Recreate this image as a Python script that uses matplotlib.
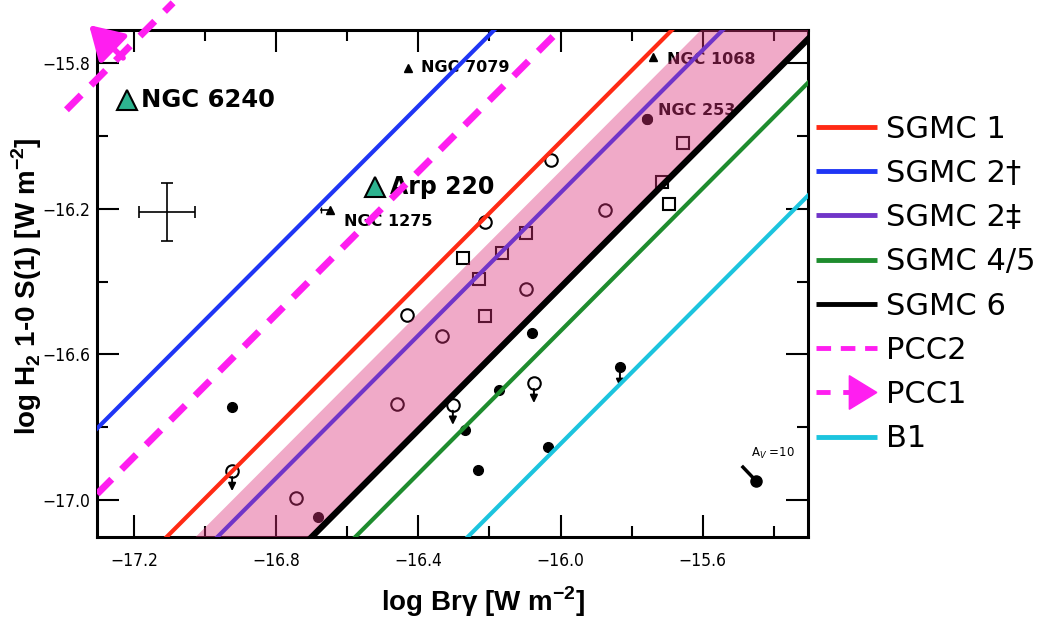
import numpy as np
import matplotlib
matplotlib.use("Agg")
import matplotlib.pyplot as plt
from matplotlib.lines import Line2D
from matplotlib.patches import Polygon
from matplotlib.legend_handler import HandlerBase
from matplotlib.ticker import MultipleLocator

plt.rcParams['mathtext.fontset'] = 'custom'
plt.rcParams['mathtext.rm'] = 'Liberation Sans'
plt.rcParams['mathtext.bf'] = 'Liberation Sans:bold'

# ---------------- data ----------------
# model lines y = y0 + slope*(x - x0)
SLOPE = 0.98
X0 = -16.3
line_names = ['SGMC 1', 'SGMC 2\u2020', 'SGMC 2\u2021', 'SGMC 4/5', 'SGMC 6', 'PCC2', 'PCC1', 'B1']
line_y0 = [-16.31, -15.82, -16.45, -16.83, -16.71, -16.00, -14.86, -17.14]
band_edge_y0 = -16.39          # left edge of shaded band, right edge is SGMC 6
pcc1_xrange = [-17.39, -17.09]  # the bit of PCC1 visible near the corner

# open circles
open_x = [-16.027, -16.213, -16.432, -16.744, -16.460, -16.334, -16.097, -15.875]
open_y = [-16.066, -16.236, -16.492, -16.995, -16.736, -16.550, -16.421, -16.204]
# open circles, upper limits
open_lim_x = [-16.924, -16.303, -16.075]
open_lim_y = [-16.921, -16.739, -16.679]
# open squares
sq_x = [-16.274, -16.229, -16.165, -16.097, -15.656, -15.715, -15.695, -16.213]
sq_y = [-16.335, -16.393, -16.322, -16.267, -16.019, -16.127, -16.187, -16.495]
# filled dots
dot_x = [-16.924, -16.682, -16.080, -16.173, -16.269, -16.232, -16.035, -15.757]
dot_y = [-16.745, -17.047, -16.541, -16.698, -16.808, -16.918, -16.855, -15.954]
dot_lim_x = [-15.833]
dot_lim_y = [-16.635]
# A_V = 10 extinction vector
av_x = [-15.487, -15.450]
av_y = [-16.910, -16.948]
# small triangles (labelled)
tri_names = ['NGC 7079', 'NGC 1275', 'NGC 1068']
tri_x = [-16.429, -16.649, -15.740]
tri_y = [-15.813, -16.204, -15.783]
ngc253_x, ngc253_y = -15.757, -15.954
# new sources
new_names = ['NGC 6240', 'Arp 220']
new_x = [-17.220, -16.522]
new_y = [-15.901, -16.140]
# typical error bar
err_x, err_y, err_size = -17.107, -16.209, 0.08

colors = ['#ff2a14', '#1f35f5', '#7035c8', '#1e8c2e', '#000000', '#ff1ef0', '#ff1ef0', '#1cc4de']
widths = [3, 3, 3, 3, 4.5, 5, 5, 3]


class ArrowHandler(HandlerBase):
    def create_artists(self, legend, orig, xdescent, ydescent, width, height, fontsize, trans):
        y = height / 2 - ydescent
        ln = Line2D([-xdescent, width * 0.6], [y, y], color=orig.get_color(),
                    lw=3.5, ls=(0, (2.9, 2.6)))
        h = 0.55 * fontsize
        head = Polygon([[width * 0.55, y - h], [width, y], [width * 0.55, y + h]],
                       closed=True, color=orig.get_color())
        ln.set_transform(trans)
        head.set_transform(trans)
        return [ln, head]


fig = plt.figure(figsize=(10.58, 6.19), dpi=100)
ax = fig.add_axes([0.0917, 0.1325, 0.672, 0.819])
ax.set_xlim(-17.304, -15.304)
ax.set_ylim(-17.102, -15.709)

xs = np.array([-17.6, -15.0])

# shaded band (drawn over the points so they turn maroon)
ax.fill_between(xs, line_y0[4] + SLOPE * (xs - X0), band_edge_y0 + SLOPE * (xs - X0),
                color='#dc317a', alpha=0.41, lw=0, zorder=4)

handles = []
for name, y0, c, w in zip(line_names, line_y0, colors, widths):
    if name == 'PCC1':
        px = np.array(pcc1_xrange)
        l, = ax.plot(px, y0 + SLOPE * (px - X0), color=c, lw=w, ls=(0, (3, 2)),
                     clip_on=False, zorder=5)
    elif name == 'PCC2':
        l, = ax.plot(xs, y0 + SLOPE * (xs - X0), color=c, lw=w, ls=(0, (3, 2)), zorder=5)
    else:
        l, = ax.plot(xs, y0 + SLOPE * (xs - X0), color=c, lw=w, zorder=5,
                     solid_capstyle='butt')
    handles.append(l)

# arrow pointing towards PCC1
ax.annotate('', xy=(-17.332, -15.690), xytext=(-17.225, -15.791),
            arrowprops=dict(arrowstyle='-|>,head_length=1.0,head_width=0.6',
                            mutation_scale=20, color='#ff1ef0', lw=4),
            annotation_clip=False, zorder=6)

# data points
ax.plot(open_x, open_y, 'o', mfc='white', mec='k', ms=9, mew=1.5, ls='none', zorder=2)
ax.plot(open_lim_x, open_lim_y, 'o', mfc='white', mec='k', ms=9, mew=1.5, ls='none', zorder=2)
ax.plot(sq_x, sq_y, 's', mfc='white', mec='k', ms=8, mew=1.5, ls='none', zorder=2)
ax.plot(dot_x, dot_y, 'o', color='k', ms=7, ls='none', zorder=2)
ax.plot(dot_lim_x, dot_lim_y, 'o', color='k', ms=7, ls='none', zorder=2)
for x, y in zip(open_lim_x + dot_lim_x, open_lim_y + dot_lim_y):
    ax.annotate('', xy=(x, y - 0.055), xytext=(x, y - 0.016),
                arrowprops=dict(arrowstyle='-|>,head_length=0.45,head_width=0.22',
                                mutation_scale=10, color='k', lw=1.4, shrinkA=0, shrinkB=0),
                zorder=2)

ax.plot(av_x, av_y, color='k', lw=2.5, zorder=2)
ax.plot(av_x[-1:], av_y[-1:], 'o', color='k', ms=8, zorder=2)
ax.annotate('A$_V$ =10', (av_x[-1], av_y[-1]), xytext=(-4, 20), textcoords='offset points',
            fontsize=8.5, ha='left', va='center', family='DejaVu Sans', zorder=2)

ax.plot(tri_x, tri_y, '^', color='k', ms=6, ls='none', zorder=2)
ax.plot([tri_x[1] - 0.025, tri_x[1]], [tri_y[1], tri_y[1]], color='k', lw=1.2,
        marker='|', markevery=[0], ms=5, zorder=2)
tri_offsets = [(9.5, 0.5), (10.5, -8.5), (10, -2)]
for name, x, y, off in zip(tri_names, tri_x, tri_y, tri_offsets):
    ax.annotate(name, (x, y), xytext=off, textcoords='offset points', fontsize=11.5,
                fontweight='bold', ha='left', va='center', family='DejaVu Sans', zorder=2)
ax.plot([ngc253_x], [ngc253_y], 'o', color='k', ms=7, zorder=2)
ax.annotate('NGC 253', (ngc253_x, ngc253_y), xytext=(8, 6.5), textcoords='offset points',
            fontsize=11.5, fontweight='bold', ha='left', va='center', family='DejaVu Sans',
            zorder=2)

ax.plot(new_x, new_y, '^', mfc='#2db38f', mec='k', ms=14, mew=1.5, ls='none', zorder=3)
for name, x, y, fs in zip(new_names, new_x, new_y, [17.5, 17]):
    ax.annotate(name, (x, y), xytext=(10.5, 0), textcoords='offset points', fontsize=fs,
                fontweight='bold', ha='left', va='center', family='DejaVu Sans', zorder=3)

ax.errorbar([err_x], [err_y], xerr=err_size, yerr=err_size, fmt='none', ecolor='k',
            elinewidth=1.2, capsize=4, capthick=1.2, zorder=2)

# axes styling
ax.set_xticks([-17.2, -16.8, -16.4, -16.0, -15.6])
ax.xaxis.set_minor_locator(MultipleLocator(0.2))
ax.set_yticks([-15.8, -16.2, -16.6, -17.0])
ax.yaxis.set_minor_locator(MultipleLocator(0.2))
ax.tick_params(which='both', direction='in', top=True, right=True, width=1.5)
ax.tick_params(which='major', length=16)
ax.tick_params(which='minor', length=8)
ax.tick_params(axis='x', pad=11)
ax.tick_params(axis='y', pad=5)
for lab in ax.get_xticklabels() + ax.get_yticklabels():
    lab.set_family('DejaVu Sans')
    lab.set_stretch('condensed')
    lab.set_fontsize(12.5)
for s in ax.spines.values():
    s.set_linewidth(2.2)

ax.set_xlabel('log Br\u03b3 [W m$^{\\mathbf{-2}}$]', fontsize=20, fontweight='bold',
              family='Liberation Sans')
ax.set_ylabel(r'log H$_\mathbf{2}$ 1-0 S(1) [W m$^{\mathbf{-2}}$]', fontsize=20,
              fontweight='bold', family='Liberation Sans')
ax.xaxis.set_label_coords(0.543, -0.093)
ax.yaxis.set_label_coords(-0.074, 0.495)

leg = fig.legend(handles, line_names, loc='upper left', bbox_to_anchor=(0.771, 0.815),
                 frameon=False, fontsize=22, handlelength=2.0, handletextpad=0.3,
                 labelspacing=0.5, borderpad=0, borderaxespad=0,
                 handler_map={handles[6]: ArrowHandler()})
for lh in leg.get_lines():
    lh.set_linewidth(3.5)

fig.savefig('out.png', dpi=100)
